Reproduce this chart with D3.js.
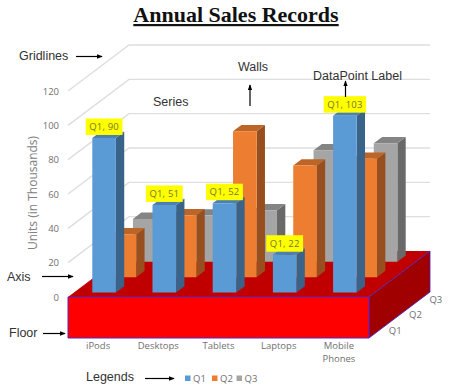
<!DOCTYPE html>
<html>
<head>
<meta charset="utf-8">
<script src="https://cdn.jsdelivr.net/npm/d3@7"></script>
<style>
html, body { margin: 0; padding: 0; background: #fff; }
svg { display: block; }
.note { font-family: "Liberation Sans", Arial, sans-serif; font-size: 12.5px; fill: #333; }
.tick-label { font-family: "Open Sans", sans-serif; font-size: 9.5px; fill: #707070; }
</style>
</head>
<body>
<div id="chart"></div>
<script>
const categories = ['iPods', 'Desktops', 'Tablets', 'Laptops', 'Mobile Phones'];
const seriesNames = ['Q1', 'Q2', 'Q3'];
const q1Values = [90, 51, 52, 22, 103];
const q2Values = [25, 36, 85, 65, 69];
const q3Values = [25, 27, 30, 65, 69];
const yTicks = [0, 20, 40, 60, 80, 100, 120];

const seriesValues = { Q1: q1Values, Q2: q2Values, Q3: q3Values };
const seriesColors = {
    Q1: { front: '#5b9bd5', side: '#3a638a', top: '#4a80b2' },
    Q2: { front: '#ed7d31', side: '#974f1f', top: '#bd6427' },
    Q3: { front: '#a5a5a5', side: '#696969', top: '#848484' }
};

const width = 452,
    height = 391,
    floorY = 297,
    floorDepth = 41,
    depthX = 61,
    depthY = 46;

const x = d3.scaleBand().domain(categories).range([68, 369]).paddingInner(0.608).paddingOuter(0.304);
const y = d3.scaleLinear().domain([0, 120]).range([floorY, floorY - 206]);
const z = d3.scaleBand().domain(seriesNames).range([0, 1]).paddingInner(0.59).paddingOuter(0.295);

// front-view x and y plus a depth of 0..1 gives the oblique screen position
function project(px, py, depth) {
    return [px + depth * depthX, py - depth * depthY];
}

function poly(points) {
    return points.join(' ');
}

const svg = d3.select('#chart').append('svg')
    .attr('width', width)
    .attr('height', height);

svg.append('defs').append('marker')
    .attr('id', 'head')
    .attr('viewBox', '0 0 8 6')
    .attr('refX', 7)
    .attr('refY', 3)
    .attr('markerWidth', 6)
    .attr('markerHeight', 5)
    .attr('markerUnits', 'userSpaceOnUse')
    .attr('orient', 'auto')
    .append('path')
    .attr('d', 'M0,0L8,3L0,6Z')
    .attr('fill', '#000');

svg.append('text')
    .attr('x', 236)
    .attr('y', 22)
    .attr('text-anchor', 'middle')
    .attr('font-family', '"Liberation Serif", serif')
    .attr('font-weight', 'bold')
    .attr('font-size', 22)
    .attr('text-decoration', 'underline')
    .attr('fill', '#111')
    .text('Annual Sales Records');

// walls
const [xLeft, xRight] = x.range();
const grid = svg.append('g')
    .attr('fill', 'none')
    .attr('stroke', '#dedede')
    .attr('stroke-width', 1.4);

yTicks.filter(function (t) { return t > 0; }).forEach(function (t) {
    grid.append('polyline')
        .attr('points', poly([project(xLeft, y(t), 0), project(xLeft, y(t), 1), project(xRight, y(t), 1)]));
});

// floor slab
const floor = svg.append('g')
    .attr('stroke-linejoin', 'round');

floor.append('polygon')
    .attr('points', poly([project(xLeft, floorY, 0), project(xRight, floorY, 0), project(xRight, floorY, 1), project(xLeft, floorY, 1)]))
    .attr('fill', '#c00000');
floor.append('polygon')
    .attr('points', poly([project(xRight, floorY, 0), project(xRight, floorY, 1), project(xRight, floorY + floorDepth, 1), project(xRight, floorY + floorDepth, 0)]))
    .attr('fill', '#a00000')
    .attr('stroke', '#3a1fd0')
    .attr('stroke-width', 0.8);
floor.append('rect')
    .attr('x', xLeft)
    .attr('y', floorY)
    .attr('width', xRight - xLeft)
    .attr('height', floorDepth)
    .attr('fill', '#ff0000')
    .attr('stroke', '#5a22c8')
    .attr('stroke-width', 1);

// bars, back row first so the nearer rows paint over them
const barDepth = z.bandwidth();

seriesNames.slice().reverse().forEach(function (name) {
    const colors = seriesColors[name],
        d0 = z(name),
        d1 = d0 + barDepth;

    const bar = svg.append('g').selectAll('g')
        .data(seriesValues[name])
        .enter()
        .append('g');

    function corners(v, i) {
        const x0 = x(categories[i]),
            x1 = x0 + x.bandwidth();
        return { x0: x0, x1: x1, base: y(0), top: y(v) };
    }

    bar.append('polygon')
        .attr('fill', colors.side)
        .attr('points', function (v, i) {
            const c = corners(v, i);
            return poly([project(c.x1, c.top, d0), project(c.x1, c.top, d1), project(c.x1, c.base, d1), project(c.x1, c.base, d0)]);
        });
    bar.append('polygon')
        .attr('fill', colors.top)
        .attr('points', function (v, i) {
            const c = corners(v, i);
            return poly([project(c.x0, c.top, d0), project(c.x1, c.top, d0), project(c.x1, c.top, d1), project(c.x0, c.top, d1)]);
        });
    bar.append('polygon')
        .attr('fill', colors.front)
        .attr('points', function (v, i) {
            const c = corners(v, i);
            return poly([project(c.x0, c.top, d0), project(c.x1, c.top, d0), project(c.x1, c.base, d0), project(c.x0, c.base, d0)]);
        });
});

// data point labels for Q1
const labels = svg.append('g').selectAll('g')
    .data(q1Values)
    .enter()
    .append('g')
    .attr('transform', function (v, i) {
        const pos = project(x(categories[i]) + x.bandwidth() / 2, y(v), z('Q1'));
        return 'translate(' + pos[0] + ',' + (pos[1] - 3) + ')';
    });

labels.append('text')
    .attr('text-anchor', 'middle')
    .attr('y', -5)
    .attr('font-family', '"Open Sans", sans-serif')
    .attr('font-size', 9.5)
    .attr('letter-spacing', 0.2)
    .attr('fill', '#77772f')
    .text(function (v) { return 'Q1, ' + v; })
    .each(function () {
        const w = this.getComputedTextLength() + 7;
        d3.select(this.parentNode).insert('rect', 'text')
            .attr('x', -w / 2)
            .attr('y', -16.5)
            .attr('width', w)
            .attr('height', 16.5)
            .attr('fill', '#ffff00');
    });

// value axis
const yAxis = svg.append('g')
    .attr('transform', 'translate(' + (xLeft - 9) + ',0)')
    .call(d3.axisLeft(y).tickValues(yTicks).tickSize(0).tickPadding(0));
yAxis.select('.domain').remove();
yAxis.selectAll('text')
    .attr('class', 'tick-label');
yAxis.attr('font-family', null).attr('font-size', null);

svg.append('text')
    .attr('transform', 'translate(37,193) rotate(-90)')
    .attr('text-anchor', 'middle')
    .attr('font-family', '"Open Sans", sans-serif')
    .attr('font-size', 12)
    .attr('fill', '#808080')
    .text('Units (in Thousands)');

// category labels
const catLabels = svg.append('g').selectAll('text')
    .data(categories)
    .enter()
    .append('text')
    .attr('class', 'tick-label')
    .attr('text-anchor', 'middle')
    .attr('y', 349);

catLabels.selectAll('tspan')
    .data(function (d) { return d.split(' '); })
    .enter()
    .append('tspan')
    .attr('x', function () { return x(this.parentNode.__data__) + x.bandwidth() / 2; })
    .attr('dy', function (d, i) { return i ? 12.5 : 0; })
    .text(function (d) { return d; });

// depth labels, sitting just outside the right edge of the slab
svg.append('g').selectAll('text')
    .data(seriesNames)
    .enter()
    .append('text')
    .attr('class', 'tick-label')
    .attr('text-anchor', 'middle')
    .attr('dy', '0.35em')
    .attr('transform', function (d) {
        const pos = project(xRight, floorY + floorDepth, z(d) + barDepth / 2);
        return 'translate(' + (pos[0] + 16) + ',' + pos[1] + ')';
    })
    .text(function (d) { return d; });

// legend
const legendPos = [185, 212, 236.5];
const legend = svg.append('g').selectAll('g')
    .data(seriesNames)
    .enter()
    .append('g')
    .attr('transform', function (d, i) { return 'translate(' + legendPos[i] + ',375.5)'; });
legend.append('rect')
    .attr('width', 5.5)
    .attr('height', 5.5)
    .attr('fill', function (d) { return seriesColors[d].front; });
legend.append('text')
    .attr('class', 'tick-label')
    .attr('x', 8)
    .attr('y', 6.5)
    .text(function (d) { return d; });

// callouts
const notes = [
    { text: 'Gridlines', x: 19, y: 59.5 },
    { text: 'Series', x: 153, y: 105.5 },
    { text: 'Walls', x: 238, y: 70.5 },
    { text: 'DataPoint Label', x: 313, y: 79.5 },
    { text: 'Axis', x: 7, y: 280.5 },
    { text: 'Floor', x: 9, y: 337 },
    { text: 'Legends', x: 86, y: 381 }
];
const arrows = [
    [76, 56.5, 102, 56.5],
    [250, 106, 250, 85],
    [345.5, 97, 345.5, 81],
    [42, 276.5, 73, 276.5],
    [43, 333.5, 65, 333.5],
    [145, 378.5, 174, 378.5]
];

svg.append('g').selectAll('text')
    .data(notes)
    .enter()
    .append('text')
    .attr('class', 'note')
    .attr('x', function (d) { return d.x; })
    .attr('y', function (d) { return d.y; })
    .text(function (d) { return d.text; });

svg.append('g').selectAll('line')
    .data(arrows)
    .enter()
    .append('line')
    .attr('x1', function (d) { return d[0]; })
    .attr('y1', function (d) { return d[1]; })
    .attr('x2', function (d) { return d[2]; })
    .attr('y2', function (d) { return d[3]; })
    .attr('stroke', '#000')
    .attr('stroke-width', 1.2)
    .attr('marker-end', 'url(#head)');
</script>
</body>
</html>
